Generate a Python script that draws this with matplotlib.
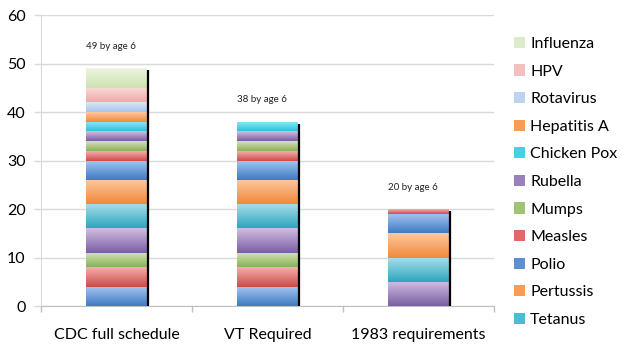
import matplotlib
matplotlib.use('Agg')
import matplotlib.pyplot as plt
import matplotlib.patches as mpatches
import numpy as np
from matplotlib.colors import LinearSegmentedColormap

plt.rcParams['font.family'] = ['Lato', 'DejaVu Sans']

categories = ['CDC full schedule', 'VT Required', '1983 requirements']

# series from bottom of the stack to the top
series_names = ['Pneumococcal', 'Hib', 'Hepatitis B', 'Diphtheria',
                'Tetanus', 'Pertussis', 'Polio', 'Measles', 'Mumps',
                'Rubella', 'Chicken Pox', 'Hepatitis A', 'Rotavirus',
                'HPV', 'Influenza']
series_values = [
    [4, 4, 0],
    [4, 4, 0],
    [3, 3, 0],
    [5, 5, 5],
    [5, 5, 5],
    [5, 5, 5],
    [4, 4, 4],
    [2, 2, 1],
    [2, 2, 0],
    [2, 2, 0],
    [2, 2, 0],
    [2, 0, 0],
    [2, 0, 0],
    [3, 0, 0],
    [4, 0, 0],
]
legend_names = ['Influenza', 'HPV', 'Rotavirus', 'Hepatitis A', 'Chicken Pox',
                'Rubella', 'Mumps', 'Measles', 'Polio', 'Pertussis', 'Tetanus']

blue = ('#A6C6EF', '#3E7BC1', '#5B91D3')
red = ('#F6AEAC', '#CC4B49', '#E06866')
green = ('#D2E5B5', '#8CB158', '#A3C477')
purple = ('#CFBFE2', '#7B5DA3', '#9A80BD')
teal = ('#A9DFEC', '#2EA6BD', '#4DBBD2')
orange = ('#FEC8A0', '#EE8A3A', '#F59D55')
colors = [blue, red, green, purple, teal, orange, blue, red, green, purple,
          ('#90E8F6', '#2BC3DD', '#45D0E6'), orange,
          ('#D8E5F7', '#AAC4EA', '#BDD3F0'),
          ('#FAD9D9', '#EFAAAA', '#F4BFBF'),
          ('#EDF5E1', '#CCE2B0', '#DCECC8')]

fig = plt.figure(figsize=(6.37, 3.53), dpi=100, facecolor='white')
ax = fig.add_axes([0.0644, 0.1331, 0.7111, 0.8244])

x = np.arange(len(categories))
width = 0.4
bottoms = np.zeros(len(categories))
grad = np.linspace(0, 1, 64).reshape(-1, 1)
for name, vals, col in zip(series_names, series_values, colors):
    bars = ax.bar(x, vals, width, bottom=bottoms, color=col[2], linewidth=0,
                  zorder=3, label=name)
    cmap = LinearSegmentedColormap.from_list(name, [col[1], col[0]])
    for b in bars:
        if b.get_height() <= 0:
            continue
        x0, y0 = b.get_x(), b.get_y()
        im = ax.imshow(grad, cmap=cmap, origin='lower', aspect='auto',
                       extent=(x0, x0 + b.get_width(), y0, y0 + b.get_height()),
                       zorder=3.5, interpolation='bilinear')
        im.set_clip_path(b)
    bottoms += np.array(vals)

totals = bottoms
# dark shadow on the right edge of every bar
for xi, t in zip(x, totals):
    ax.plot([xi + width / 2 + 0.006] * 2, [0, t - 0.4], color='black',
            lw=1.6, zorder=4, solid_capstyle='butt')
    ax.text(xi - 0.04, t + 4.5, f'{int(t)} by age 6', ha='center',
            va='center', fontsize=7, color='#222222')

ax.set_xlim(-0.5, 2.5)
ax.set_ylim(0, 60)
ax.set_yticks(np.arange(0, 61, 10))
ax.yaxis.grid(True, color='#D9D9D9', linewidth=1.0, zorder=0)
ax.set_axisbelow(True)
ax.set_xticks(x)
ax.set_xticklabels(categories, fontsize=11.5)
ax.set_xticks([-0.5, 0.5, 1.5, 2.5], minor=True)
ax.tick_params(axis='x', which='major', length=0, pad=16)
ax.tick_params(axis='x', which='minor', length=4, color='#BFBFBF', width=1)
ax.tick_params(axis='y', length=5, color='#D9D9D9', width=1, pad=6,
               labelsize=11.5)
for s in ['top', 'right']:
    ax.spines[s].set_visible(False)
ax.spines['left'].set_color('#D9D9D9')
ax.spines['bottom'].set_color('#BFBFBF')

lookup = dict(zip(series_names, colors))
handles = [mpatches.Patch(facecolor=lookup[n][2], edgecolor='none', label=n)
           for n in legend_names]
fig.legend(handles=handles, loc='upper left', bbox_to_anchor=(0.797, 0.914),
           frameon=False, fontsize=11.5, handlelength=0.7, handleheight=0.7,
           handletextpad=0.3, labelspacing=0.84, borderaxespad=0)

fig.savefig('out.png', dpi=100, facecolor='white')
